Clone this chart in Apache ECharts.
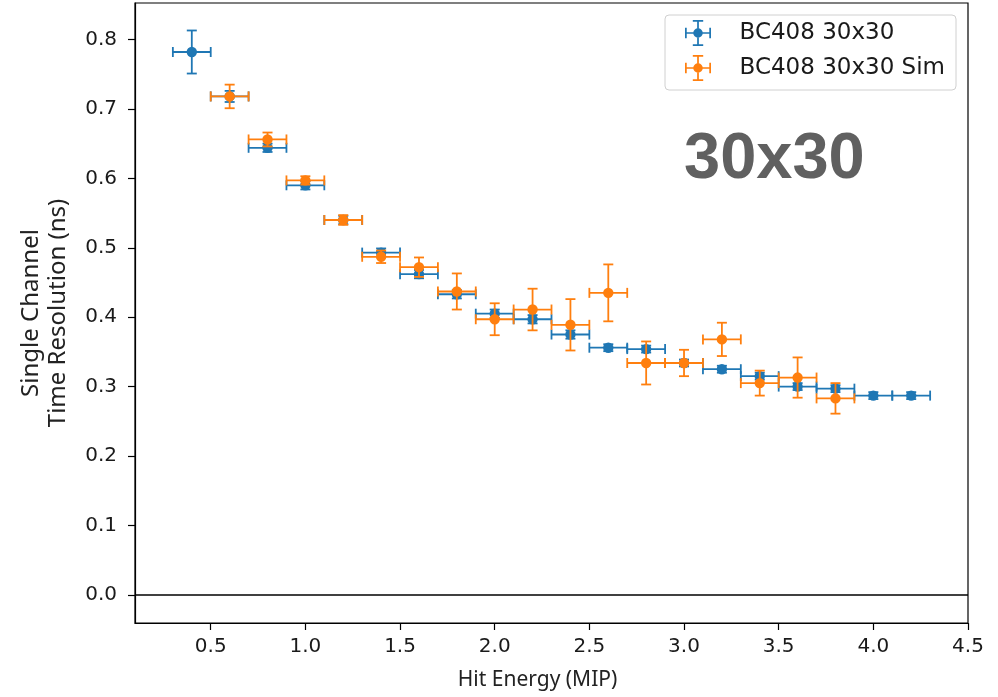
<!DOCTYPE html>
<html>
<head>
<meta charset="utf-8">
<script src="https://cdn.jsdelivr.net/npm/echarts@6/dist/echarts.min.js"></script>
<style>html,body{margin:0;padding:0;background:#fff}#c{width:998px;height:697px}</style>
</head>
<body>
<div id="c"></div>
<script>
// ---- data ----
const xBlue = [0.4,0.6,0.8,1.0,1.2,1.4,1.6,1.8,2.0,2.2,2.4,2.6,2.8,3.0,3.2,3.4,3.6,3.8,4.0,4.2];
const yBlue = [0.782,0.718,0.644,0.590,0.540,0.493,0.462,0.433,0.405,0.397,0.375,0.356,0.354,0.334,0.325,0.315,0.300,0.297,0.287,0.287];
const xErrBlue = [0.1,0.1,0.1,0.1,0.1,0.1,0.1,0.1,0.1,0.1,0.1,0.1,0.1,0.1,0.1,0.1,0.1,0.1,0.1,0.1];
const yErrBlue = [0.031,0.008,0.006,0.006,0.006,0.006,0.006,0.006,0.006,0.006,0.006,0.005,0.005,0.005,0.005,0.005,0.005,0.005,0.005,0.005];

const xOrange = [0.6,0.8,1.0,1.2,1.4,1.6,1.8,2.0,2.2,2.4,2.6,2.8,3.0,3.2,3.4,3.6,3.8];
const yOrange = [0.718,0.656,0.597,0.540,0.487,0.472,0.437,0.397,0.411,0.389,0.435,0.334,0.334,0.368,0.305,0.313,0.283];
const xErrOrange = [0.1,0.1,0.1,0.1,0.1,0.1,0.1,0.1,0.1,0.1,0.1,0.1,0.1,0.1,0.1,0.1,0.1];
const yErrOrange = [0.017,0.010,0.006,0.007,0.009,0.014,0.026,0.023,0.030,0.037,0.041,0.031,0.019,0.024,0.018,0.029,0.022];

const xTicks = [0.5,1.0,1.5,2.0,2.5,3.0,3.5,4.0,4.5];
const yTicks = [0.0,0.1,0.2,0.3,0.4,0.5,0.6,0.7,0.8];
const seriesNames = ['BC408 30x30', 'BC408 30x30 Sim'];
const annotation = '30x30';

// ---- chart ----
const BLUE = '#1f77b4', ORANGE = '#ff7f0e';
const toData = (xs, ys, xe, ye) => xs.map((x, i) => [x, ys[i], xe[i], ye[i]]);

function renderErr(color) {
  return function (params, api) {
    const x = api.value(0), y = api.value(1), xe = api.value(2), ye = api.value(3);
    const c = api.coord([x, y]);
    const l = api.coord([x - xe, y]), r = api.coord([x + xe, y]);
    const t = api.coord([x, y + ye]), b = api.coord([x, y - ye]);
    const cap = 5;
    const ls = { stroke: color, lineWidth: 1.8 };
    const line = (x1, y1, x2, y2) => ({ type: 'line', shape: { x1, y1, x2, y2 }, style: ls });
    return {
      type: 'group',
      children: [
        line(l[0], l[1], r[0], r[1]),
        line(t[0], t[1], b[0], b[1]),
        line(l[0], l[1] - cap, l[0], l[1] + cap),
        line(r[0], r[1] - cap, r[0], r[1] + cap),
        line(t[0] - cap, t[1], t[0] + cap, t[1]),
        line(b[0] - cap, b[1], b[0] + cap, b[1]),
        { type: 'circle', shape: { cx: c[0], cy: c[1], r: 5.2 }, style: { fill: color } }
      ]
    };
  };
}

const icon = 'path://M0,14h30v2h-30z M14,0h2v30h-2z M0,9h2v12h-2z M28,9h2v12h-2z M9,0h12v2h-12z M9,28h12v2h-12z M9.5,15a5.5,5.5 0 1,1 11,0a5.5,5.5 0 1,1 -11,0z';

const chart = echarts.init(document.getElementById('c'), null, { renderer: 'canvas' });
chart.setOption({
  animation: false,
  backgroundColor: '#fff',
  grid: { left: 135, right: 30, top: 3, bottom: 74, show: true, borderColor: '#000', borderWidth: 1.2, backgroundColor: 'transparent' },
  legend: {
    orient: 'vertical', right: 42, top: 15,
    data: [{ name: seriesNames[0], icon: icon }, { name: seriesNames[1], icon: icon }],
    itemWidth: 27, itemHeight: 26, itemGap: 9,
    padding: [5, 11, 9, 20],
    borderColor: '#d0d0d0', borderWidth: 1, borderRadius: 4, backgroundColor: '#fff',
    textStyle: { fontFamily: 'DejaVu Sans', fontSize: 23, color: '#1a1a1a', padding: [0, 0, 0, 23] }
  },
  xAxis: {
    type: 'value', min: 0.1, max: 4.5,
    name: 'Hit Energy (MIP)', nameLocation: 'middle', nameGap: 47,
    nameTextStyle: { fontFamily: 'Noto Sans', fontSize: 21, color: '#222', padding: [0, 28, 0, 0] },
    axisLine: { onZero: false, lineStyle: { color: '#000', width: 1.2 } },
    axisTick: { show: true, length: 7, customValues: xTicks, lineStyle: { color: '#000', width: 1.2 } },
    axisLabel: { customValues: xTicks, margin: 14, fontFamily: 'DejaVu Sans', fontSize: 20, color: '#1a1a1a', formatter: v => v.toFixed(1) },
    splitLine: { show: false }
  },
  yAxis: {
    type: 'value', min: -0.0406, max: 0.8526,
    name: 'Single Channel\nTime Resolution (ns)', nameLocation: 'middle', nameGap: 63, nameRotate: 90,
    nameTextStyle: { fontFamily: 'Noto Sans', fontSize: 24, color: '#222', lineHeight: 27 },
    axisLine: { onZero: false, lineStyle: { color: '#000', width: 1.2 } },
    axisTick: { show: true, length: 7, customValues: yTicks, lineStyle: { color: '#000', width: 1.2 } },
    axisLabel: { customValues: yTicks, margin: 18, fontFamily: 'DejaVu Sans', fontSize: 20, color: '#1a1a1a', formatter: v => v.toFixed(1) },
    splitLine: { show: false }
  },
  graphic: [{
    type: 'text', left: 684, top: 128,
    style: { text: annotation, font: 'bold 65px "Liberation Sans", Arial, sans-serif', fill: '#606060' }
  }],
  series: [
    {
      type: 'scatter', name: '_zero', data: [], silent: true,
      markLine: { silent: true, symbol: 'none', label: { show: false }, lineStyle: { color: '#000', width: 1.5, type: 'solid' }, data: [{ yAxis: 0 }], animation: false }
    },
    { type: 'custom', name: seriesNames[0], itemStyle: { color: BLUE }, renderItem: renderErr(BLUE), data: toData(xBlue, yBlue, xErrBlue, yErrBlue), encode: { x: 0, y: 1 }, z: 3 },
    { type: 'custom', name: seriesNames[1], itemStyle: { color: ORANGE }, renderItem: renderErr(ORANGE), data: toData(xOrange, yOrange, xErrOrange, yErrOrange), encode: { x: 0, y: 1 }, z: 4 }
  ]
});
</script>
</body>
</html>
